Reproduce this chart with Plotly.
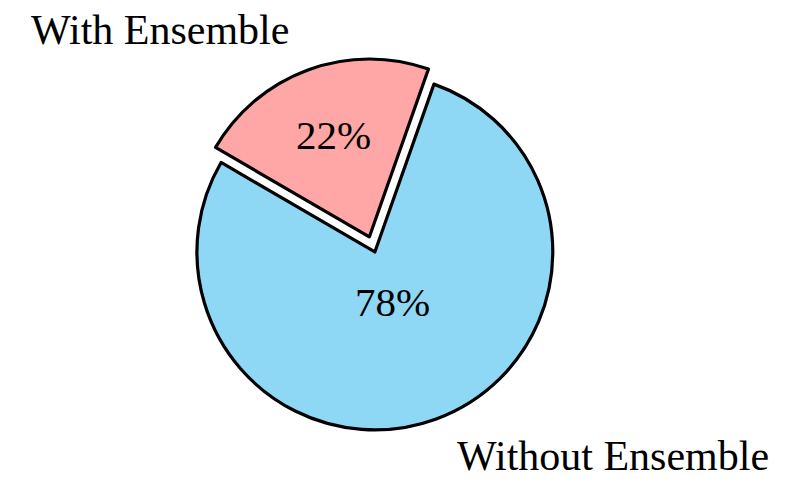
import plotly.graph_objects as go

# Share of runs with / without the ensemble step
labels = ["With Ensemble", "Without Ensemble"]
shares = [22, 78]
colors = ["#FFA6A6", "#8ED7F5"]
pulls = [0.09, 0.0]

FONT = "Palatino Linotype, Palatino, Book Antiqua, Liberation Serif, serif"
W, H = 790, 479

fig = go.Figure()
fig.add_trace(go.Pie(
    labels=labels,
    values=shares,
    sort=False,
    direction="clockwise",
    rotation=-59.8,
    pull=pulls,
    marker=dict(colors=colors, line=dict(color="black", width=3.2)),
    textinfo="none",
    domain=dict(x=[0.229, 0.720], y=[0.069, 0.879]),
    showlegend=False,
    hoverinfo="label+percent",
))

# percentage inside each wedge (pixel anchor of each text centre)
pct_pos = [(333, 135), (392, 302)]
for share, (px, py) in zip(shares, pct_pos):
    fig.add_annotation(x=px / W, y=1 - py / H, xref="paper", yref="paper",
                       text=f"{share}%", showarrow=False,
                       xanchor="center", yanchor="middle",
                       font=dict(family=FONT, size=41, color="black"))

# slice names sit outside the pie
fig.add_annotation(x=291 / W, y=1 - 30 / H, xref="paper", yref="paper",
                   text=labels[0], showarrow=False, xanchor="right", yanchor="middle",
                   font=dict(family=FONT, size=42, color="black"))
fig.add_annotation(x=455 / W, y=1 - 456 / H, xref="paper", yref="paper",
                   text=labels[1], showarrow=False, xanchor="left", yanchor="middle",
                   font=dict(family=FONT, size=42, color="black"))

fig.update_layout(
    width=W, height=H,
    margin=dict(l=0, r=0, t=0, b=0),
    paper_bgcolor="white",
    plot_bgcolor="white",
)

fig.write_html("out.html")
